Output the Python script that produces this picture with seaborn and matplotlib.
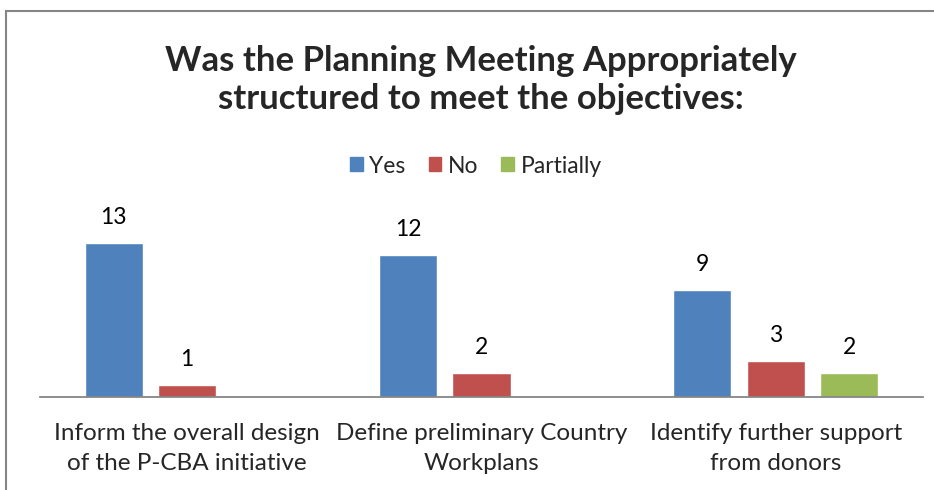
import matplotlib
matplotlib.use("Agg")
import matplotlib.pyplot as plt
import matplotlib.patches as mpatches
import seaborn as sns
import pandas as pd

categories = ["Inform the overall design\nof the P-CBA initiative",
              "Define preliminary Country\nWorkplans",
              "Identify further support\nfrom donors"]
series = ["Yes", "No", "Partially"]
yes_vals = [13, 12, 9]
no_vals = [1, 2, 3]
partial_vals = [0, 0, 2]
colors = ["#4F81BD", "#C0504D", "#9BBB59"]

rows = []
for c, y, n, p in zip(categories, yes_vals, no_vals, partial_vals):
    rows.append((c, "Yes", y))
    rows.append((c, "No", n))
    rows.append((c, "Partially", p))
df = pd.DataFrame(rows, columns=["category", "answer", "value"])

sns.set_style("white")
plt.rcParams['font.family'] = ['Lato', 'DejaVu Sans']

W, H = 934, 490
fig = plt.figure(figsize=(W / 100, H / 100), dpi=100)
ax_left, ax_right, ax_bottom, ax_top = 40, 923, 397, 200
ax = fig.add_axes([ax_left / W, 1 - ax_bottom / H, (ax_right - ax_left) / W, (ax_bottom - ax_top) / H])

sns.barplot(data=df, x="category", y="value", hue="answer", hue_order=series,
            palette=colors, width=0.75, gap=0.21, ax=ax, legend=False, saturation=1)

ax.set_ylim(0, (ax_bottom - ax_top) / 11.85)
ax.set_xlim(-0.5, 2.5)

for container in ax.containers:
    for bar in container:
        h = bar.get_height()
        if h > 0:
            ax.annotate(f"{int(h)}", (bar.get_x() + bar.get_width() / 2, h),
                        xytext=(0, 11), textcoords="offset points",
                        ha="center", va="bottom", fontsize=16.5, color="#000000")

ax.set_xlabel("")
ax.set_ylabel("")
ax.set_yticks([])
ax.tick_params(axis="x", length=0, labelsize=17.5, pad=19)
for lab in ax.get_xticklabels():
    lab.set_linespacing(1.5)
for s in ["top", "left", "right"]:
    ax.spines[s].set_visible(False)
ax.spines["bottom"].set_color("#868686")
ax.spines["bottom"].set_linewidth(1.3)

fig.text(481 / W, 1 - 80 / H, "Was the Planning Meeting Appropriately\nstructured to meet the objectives:",
         ha="center", va="center", fontsize=25, fontweight="bold", linespacing=1.22)

handles = [mpatches.Patch(color=c, label=s) for c, s in zip(colors, series)]
fig.legend(handles=handles, loc="center", bbox_to_anchor=(476 / W, 1 - 166 / H), ncol=3,
           frameon=False, fontsize=16.5, handlelength=0.55, handleheight=0.55,
           handletextpad=0.3, columnspacing=1.0)

border = mpatches.Rectangle((6 / W, -0.1), 1.2, 1 - 11 / H + 0.1, transform=fig.transFigure,
                            fill=False, edgecolor="#868686", linewidth=1.5)
fig.add_artist(border)

fig.savefig("out.png", dpi=100, facecolor="white")
